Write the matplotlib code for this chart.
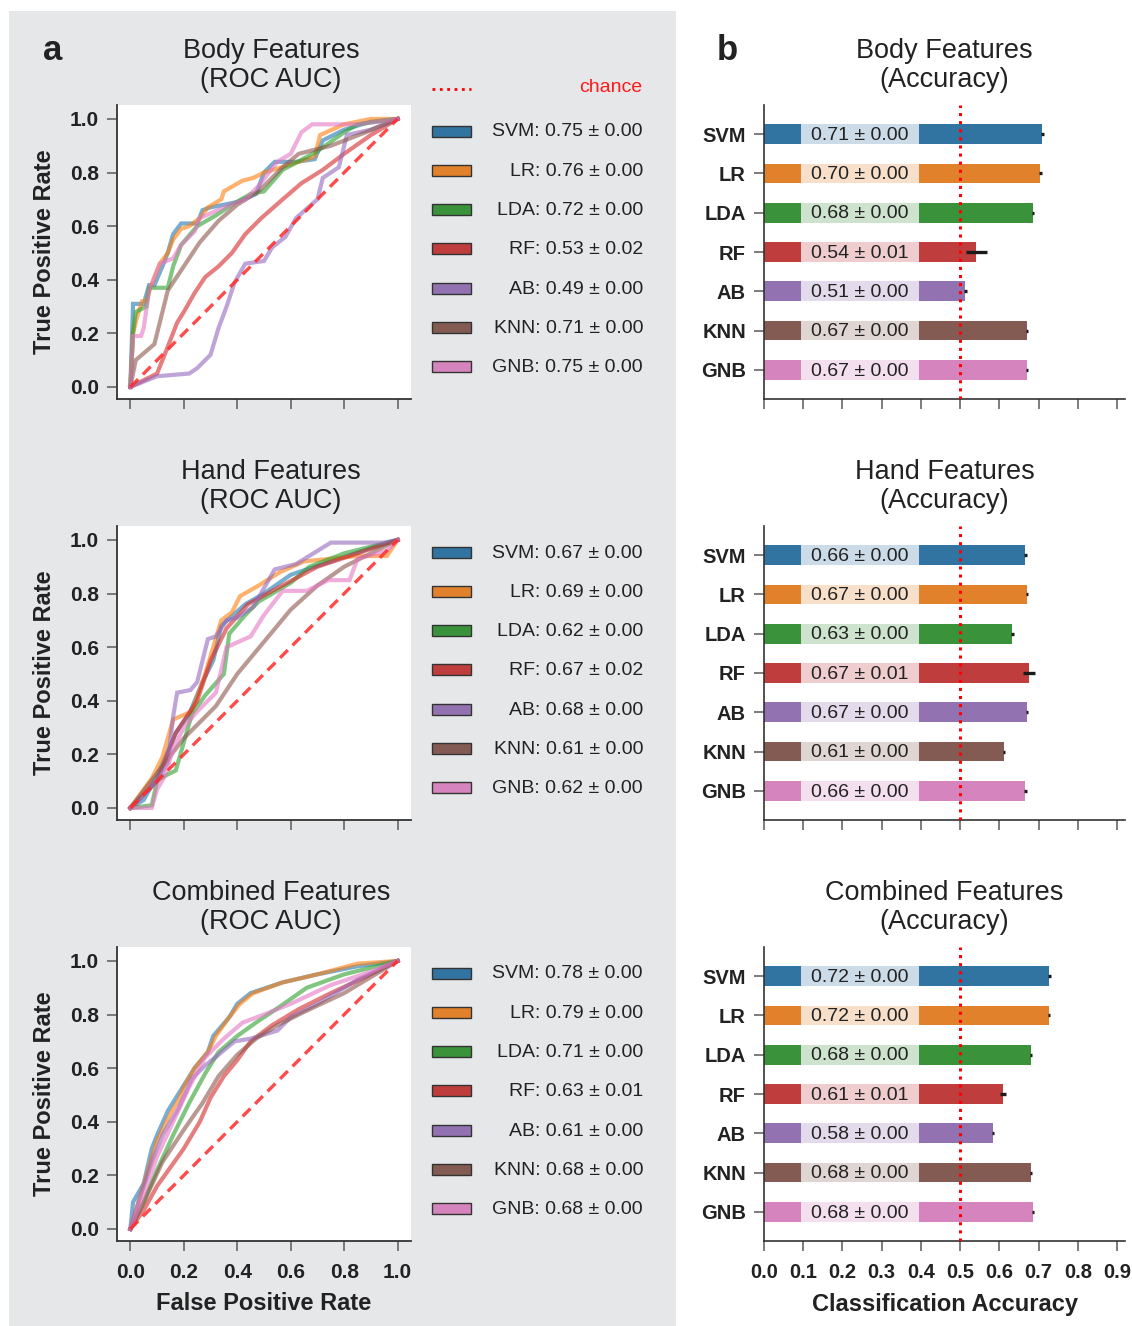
import matplotlib
matplotlib.use("Agg")
import matplotlib.pyplot as plt
from matplotlib.patches import Rectangle
from matplotlib.lines import Line2D

plt.rcParams['font.family'] = ['Liberation Sans', 'DejaVu Sans']

# ---------------- data ----------------
models = ["SVM", "LR", "LDA", "RF", "AB", "KNN", "GNB"]
feature_sets = ["Body Features", "Hand Features", "Combined Features"]

auc_labels = {
    "Body Features": ["0.75 ± 0.00", "0.76 ± 0.00", "0.72 ± 0.00", "0.53 ± 0.02",
                      "0.49 ± 0.00", "0.71 ± 0.00", "0.75 ± 0.00"],
    "Hand Features": ["0.67 ± 0.00", "0.69 ± 0.00", "0.62 ± 0.00", "0.67 ± 0.02",
                      "0.68 ± 0.00", "0.61 ± 0.00", "0.62 ± 0.00"],
    "Combined Features": ["0.78 ± 0.00", "0.79 ± 0.00", "0.71 ± 0.00", "0.63 ± 0.01",
                          "0.61 ± 0.00", "0.68 ± 0.00", "0.68 ± 0.00"],
}

acc_mean = {
    "Body Features": [0.709, 0.704, 0.686, 0.541, 0.513, 0.671, 0.671],
    "Hand Features": [0.666, 0.671, 0.633, 0.676, 0.671, 0.612, 0.666],
    "Combined Features": [0.727, 0.727, 0.681, 0.610, 0.584, 0.681, 0.686],
}
acc_err = {
    "Body Features": [0.004, 0.004, 0.003, 0.027, 0.004, 0.003, 0.003],
    "Hand Features": [0.003, 0.003, 0.003, 0.015, 0.003, 0.003, 0.003],
    "Combined Features": [0.004, 0.003, 0.003, 0.008, 0.003, 0.003, 0.003],
}
acc_labels = {
    "Body Features": ["0.71 ± 0.00", "0.70 ± 0.00", "0.68 ± 0.00", "0.54 ± 0.01",
                      "0.51 ± 0.00", "0.67 ± 0.00", "0.67 ± 0.00"],
    "Hand Features": ["0.66 ± 0.00", "0.67 ± 0.00", "0.63 ± 0.00", "0.67 ± 0.01",
                      "0.67 ± 0.00", "0.61 ± 0.00", "0.66 ± 0.00"],
    "Combined Features": ["0.72 ± 0.00", "0.72 ± 0.00", "0.68 ± 0.00", "0.61 ± 0.01",
                          "0.58 ± 0.00", "0.68 ± 0.00", "0.68 ± 0.00"],
}

# ROC curves (fpr, tpr)
roc_body = {
    "SVM": ([0, 0.01, 0.05, 0.07, 0.09, 0.12, 0.14, 0.16, 0.19, 0.25, 0.27, 0.30, 0.40, 0.47, 0.50, 0.54, 0.62, 0.69, 0.72, 0.80, 0.90, 1.0],
            [0, 0.31, 0.31, 0.38, 0.38, 0.45, 0.50, 0.57, 0.61, 0.61, 0.66, 0.67, 0.69, 0.72, 0.80, 0.84, 0.84, 0.85, 0.92, 0.96, 0.99, 1.0]),
    "LR": ([0, 0.01, 0.025, 0.044, 0.06, 0.075, 0.11, 0.14, 0.16, 0.19, 0.22, 0.26, 0.29, 0.34, 0.35, 0.42, 0.46, 0.50, 0.60, 0.69, 0.71, 0.80, 0.90, 1.0],
           [0, 0.20, 0.26, 0.32, 0.32, 0.37, 0.46, 0.50, 0.55, 0.59, 0.60, 0.63, 0.67, 0.70, 0.73, 0.77, 0.78, 0.80, 0.83, 0.86, 0.94, 0.98, 1.0, 1.0]),
    "LDA": ([0, 0.01, 0.02, 0.06, 0.07, 0.14, 0.16, 0.19, 0.25, 0.32, 0.38, 0.45, 0.50, 0.57, 0.70, 0.80, 0.85, 1.0],
            [0, 0.20, 0.28, 0.30, 0.37, 0.37, 0.45, 0.53, 0.60, 0.64, 0.68, 0.72, 0.73, 0.81, 0.88, 0.95, 0.98, 1.0]),
    "RF": ([0, 0.10, 0.14, 0.175, 0.20, 0.24, 0.28, 0.33, 0.38, 0.43, 0.49, 0.57, 0.64, 0.72, 0.80, 0.90, 1.0],
           [0, 0.05, 0.15, 0.24, 0.28, 0.35, 0.41, 0.45, 0.50, 0.57, 0.63, 0.70, 0.76, 0.81, 0.87, 0.94, 1.0]),
    "AB": ([0, 0.10, 0.22, 0.25, 0.30, 0.33, 0.36, 0.39, 0.43, 0.50, 0.53, 0.58, 0.62, 0.70, 0.72, 0.78, 0.81, 0.90, 1.0],
           [0, 0.04, 0.05, 0.07, 0.12, 0.22, 0.30, 0.39, 0.46, 0.47, 0.52, 0.56, 0.63, 0.70, 0.78, 0.82, 0.94, 0.96, 1.0]),
    "KNN": ([0, 0.02, 0.09, 0.14, 0.20, 0.26, 0.33, 0.40, 0.48, 0.57, 0.63, 0.75, 0.88, 1.0],
            [0, 0.10, 0.16, 0.36, 0.45, 0.54, 0.62, 0.68, 0.73, 0.82, 0.87, 0.90, 0.95, 1.0]),
    "GNB": ([0, 0.01, 0.04, 0.05, 0.07, 0.11, 0.16, 0.19, 0.24, 0.26, 0.35, 0.43, 0.48, 0.55, 0.60, 0.64, 0.68, 0.85, 1.0],
            [0, 0.19, 0.19, 0.22, 0.36, 0.46, 0.48, 0.53, 0.58, 0.63, 0.67, 0.70, 0.75, 0.84, 0.87, 0.95, 0.98, 0.98, 1.0]),
}

roc_hand = {
    "SVM": ([0, 0.05, 0.10, 0.17, 0.22, 0.27, 0.31, 0.34, 0.43, 0.50, 0.60, 0.75, 0.90, 1.0],
            [0, 0.03, 0.12, 0.28, 0.35, 0.47, 0.55, 0.68, 0.76, 0.80, 0.87, 0.92, 0.97, 1.0]),
    "LR": ([0, 0.08, 0.12, 0.16, 0.23, 0.28, 0.34, 0.38, 0.41, 0.48, 0.56, 0.65, 0.85, 0.96, 1.0],
           [0, 0.11, 0.19, 0.33, 0.36, 0.50, 0.70, 0.73, 0.79, 0.83, 0.88, 0.92, 0.94, 0.94, 1.0]),
    "LDA": ([0, 0.08, 0.10, 0.13, 0.17, 0.23, 0.28, 0.35, 0.37, 0.43, 0.48, 0.60, 0.67, 0.80, 1.0],
            [0, 0.01, 0.10, 0.12, 0.14, 0.35, 0.42, 0.50, 0.65, 0.72, 0.77, 0.84, 0.90, 0.95, 1.0]),
    "RF": ([0, 0.10, 0.17, 0.25, 0.30, 0.36, 0.44, 0.55, 0.70, 0.85, 1.0],
           [0, 0.10, 0.28, 0.40, 0.55, 0.67, 0.76, 0.82, 0.90, 0.95, 1.0]),
    "AB": ([0, 0.10, 0.14, 0.16, 0.175, 0.225, 0.25, 0.27, 0.29, 0.32, 0.36, 0.40, 0.46, 0.54, 0.62, 0.75, 0.95, 1.0],
           [0, 0.10, 0.17, 0.34, 0.43, 0.44, 0.47, 0.55, 0.63, 0.64, 0.70, 0.71, 0.75, 0.89, 0.91, 0.99, 0.99, 1.0]),
    "KNN": ([0, 0.10, 0.20, 0.32, 0.40, 0.50, 0.60, 0.70, 0.80, 0.90, 1.0],
            [0, 0.13, 0.26, 0.38, 0.50, 0.62, 0.74, 0.83, 0.90, 0.95, 1.0]),
    "GNB": ([0, 0.08, 0.10, 0.13, 0.16, 0.20, 0.25, 0.32, 0.36, 0.45, 0.50, 0.57, 0.66, 0.74, 0.82, 0.85, 0.96, 1.0],
            [0, 0.00, 0.07, 0.12, 0.22, 0.30, 0.36, 0.43, 0.60, 0.64, 0.72, 0.81, 0.81, 0.85, 0.85, 0.93, 0.96, 1.0]),
}

roc_comb = {
    "SVM": ([0, 0.01, 0.05, 0.08, 0.10, 0.14, 0.19, 0.24, 0.29, 0.31, 0.37, 0.40, 0.45, 0.57, 0.70, 0.85, 1.0],
            [0, 0.10, 0.17, 0.30, 0.35, 0.44, 0.52, 0.60, 0.66, 0.72, 0.79, 0.84, 0.88, 0.92, 0.95, 0.98, 1.0]),
    "LR": ([0, 0.03, 0.06, 0.10, 0.15, 0.18, 0.20, 0.24, 0.29, 0.32, 0.37, 0.41, 0.46, 0.57, 0.70, 0.85, 1.0],
           [0, 0.10, 0.20, 0.33, 0.43, 0.48, 0.53, 0.60, 0.66, 0.72, 0.79, 0.84, 0.88, 0.92, 0.95, 0.99, 1.0]),
    "LDA": ([0, 0.05, 0.10, 0.16, 0.22, 0.28, 0.33, 0.40, 0.47, 0.56, 0.66, 0.80, 1.0],
            [0, 0.10, 0.22, 0.35, 0.47, 0.58, 0.66, 0.72, 0.77, 0.83, 0.90, 0.95, 1.0]),
    "RF": ([0, 0.05, 0.10, 0.15, 0.20, 0.26, 0.30, 0.35, 0.40, 0.45, 0.53, 0.63, 0.75, 0.88, 1.0],
           [0, 0.07, 0.16, 0.23, 0.30, 0.40, 0.49, 0.57, 0.63, 0.70, 0.76, 0.82, 0.88, 0.94, 1.0]),
    "AB": ([0, 0.03, 0.08, 0.12, 0.18, 0.23, 0.28, 0.33, 0.39, 0.45, 0.55, 0.60, 0.70, 0.85, 1.0],
           [0, 0.10, 0.25, 0.35, 0.45, 0.56, 0.61, 0.65, 0.70, 0.71, 0.74, 0.79, 0.84, 0.93, 1.0]),
    "KNN": ([0, 0.05, 0.12, 0.20, 0.27, 0.33, 0.40, 0.47, 0.55, 0.65, 0.80, 0.90, 1.0],
            [0, 0.10, 0.25, 0.37, 0.47, 0.57, 0.65, 0.71, 0.76, 0.81, 0.88, 0.94, 1.0]),
    "GNB": ([0, 0.04, 0.10, 0.16, 0.22, 0.28, 0.35, 0.42, 0.50, 0.60, 0.75, 0.90, 1.0],
            [0, 0.10, 0.27, 0.40, 0.53, 0.64, 0.71, 0.77, 0.80, 0.84, 0.91, 0.96, 1.0]),
}
roc_data = {"Body Features": roc_body, "Hand Features": roc_hand, "Combined Features": roc_comb}

roc_ticks = [0.0, 0.2, 0.4, 0.6, 0.8, 1.0]
acc_ticks = [0.0, 0.1, 0.2, 0.3, 0.4, 0.5, 0.6, 0.7, 0.8, 0.9]
chance_level = 0.5

# ---------------- style ----------------
line_colors = ["#1f77b4", "#ff7f0e", "#2ca02c", "#d62728", "#9467bd", "#8c564b", "#e377c2"]
bar_colors = ["#3274a1", "#e1812c", "#3a923a", "#c03d3e", "#9372b2", "#845b53", "#d684bd"]
TXT = "#222222"
SPINE = "#333333"
TICKC = "#666666"

W, H = 1132, 1326
fig = plt.figure(figsize=(W / 100, H / 100), dpi=100)
fig.patch.set_facecolor("white")


def fx(x):
    return x / W


def fy(y):
    return 1 - y / H


def add_ax(l, t, r, b):
    return fig.add_axes([fx(l), fy(b), (r - l) / W, (b - t) / H])


# gray panel behind panel a
fig.patches.append(Rectangle((fx(9), fy(1326)), (676 - 9) / W, (1326 - 11) / H,
                             transform=fig.transFigure, facecolor="#e6e7e9",
                             edgecolor="none", zorder=-10))

fig.text(fx(43), fy(60), "a", fontsize=25, fontweight="bold", color=TXT, ha="left", va="baseline")
fig.text(fx(717), fy(60), "b", fontsize=25, fontweight="bold", color=TXT, ha="left", va="baseline")

tops = [105, 526, 947]
AXH = 294
row_step = 39.3
TITLE_FS = 19.5
TITLE_LS = 1.15

for k, fs in enumerate(feature_sets):
    top = tops[k]
    bot = top + AXH
    last = (k == 2)

    # ---------- ROC ----------
    ax = add_ax(117, top, 411, bot)
    ax.set_facecolor("white")
    for i, m in enumerate(models):
        xs, ys = roc_data[fs][m]
        ax.plot(xs, ys, color=line_colors[i], lw=3.0, alpha=0.6, solid_joinstyle="miter")
    ax.plot([0, 1], [0, 1], color="#ff2a2a", alpha=0.85, lw=2.4, ls=(0, (3.3, 2.0)))
    ax.set_xlim(-0.05, 1.05)
    ax.set_ylim(-0.045, 1.052)
    ax.set_xticks(roc_ticks)
    ax.set_yticks(roc_ticks)
    ax.set_xticklabels([f"{t:.1f}" for t in roc_ticks])
    ax.set_yticklabels([f"{t:.1f}" for t in roc_ticks])
    for s in ["top", "right"]:
        ax.spines[s].set_visible(False)
    for s in ["left", "bottom"]:
        ax.spines[s].set_color(SPINE)
        ax.spines[s].set_linewidth(1.3)
    ax.tick_params(direction="out", length=7, width=1.2, color=TICKC, labelsize=15,
                   labelcolor=TXT, pad=6)
    ax.tick_params(axis="x", pad=9)
    for lab in ax.get_xticklabels() + ax.get_yticklabels():
        lab.set_fontweight("bold")
    if not last:
        ax.tick_params(labelbottom=False)
    ax.text((45 - 117) / AXH, 0.5, "True Positive Rate", rotation=90, ha="center", va="center",
            fontsize=17, fontweight="bold", color=TXT, transform=ax.transAxes)
    ax.text((271 - 117) / AXH, 1 + (105 - 93) / AXH, fs + "\n(ROC AUC)", ha="center", va="bottom",
            fontsize=TITLE_FS, color=TXT, transform=ax.transAxes, linespacing=TITLE_LS)
    if last:
        ax.text(0.5, (bot - 1304) / AXH, "False Positive Rate", ha="center", va="center",
                fontsize=17, fontweight="bold", color=TXT, transform=ax.transAxes)

    # ---------- legend (manual) ----------
    if k == 0:
        fig.lines.append(Line2D([fx(432), fx(471)], [fy(89), fy(89)], transform=fig.transFigure,
                                color="red", lw=2, ls=":"))
        fig.text(fx(642), fy(88), "chance", color="#ff1a1a", fontsize=14, ha="right", va="center")
    for i, m in enumerate(models):
        yc = top + 26 + row_step * i
        fig.patches.append(Rectangle((fx(432), fy(yc + 5.5)), 39 / W, 11 / H,
                                     transform=fig.transFigure, facecolor=bar_colors[i],
                                     edgecolor=SPINE, lw=1.0))
        fig.text(fx(643), fy(yc + 1), f"{m}: {auc_labels[fs][i]}", color=TXT, fontsize=14,
                 ha="right", va="center")

    # ---------- accuracy bars ----------
    bx = add_ax(764, top, 1125, bot)
    bx.set_facecolor("white")
    pos = list(range(len(models)))
    bx.barh(pos, acc_mean[fs], height=0.5, color=bar_colors, xerr=acc_err[fs],
            error_kw=dict(ecolor="#1a1a1a", elinewidth=2.4, capsize=0), zorder=2)
    bx.barh(pos, [0.301] * len(models), left=0.094, height=0.5, color="white", alpha=0.75,
            lw=0, zorder=3)
    for i in pos:
        bx.text(0.245, i + 0.03, acc_labels[fs][i], ha="center", va="center", fontsize=14,
                color=TXT, zorder=4)
    bx.axvline(chance_level, color="red", ls=":", lw=2.2, zorder=5)
    bx.set_xlim(0, 0.92)
    bx.set_ylim(6.74, -0.74)
    bx.set_yticks(pos)
    bx.set_yticklabels(models)
    bx.set_xticks(acc_ticks)
    bx.set_xticklabels([f"{t:.1f}" for t in acc_ticks])
    for s in ["top", "right"]:
        bx.spines[s].set_visible(False)
    for s in ["left", "bottom"]:
        bx.spines[s].set_color(SPINE)
        bx.spines[s].set_linewidth(1.2)
    bx.tick_params(direction="out", length=7, width=1.2, color=TICKC, labelsize=14.5,
                   labelcolor=TXT, pad=6)
    bx.tick_params(axis="x", pad=9)
    for lab in bx.get_xticklabels() + bx.get_yticklabels():
        lab.set_fontweight("bold")
    if not last:
        bx.tick_params(labelbottom=False)
    bx.text(0.5, 1 + (105 - 93) / AXH, fs + "\n(Accuracy)", ha="center", va="bottom",
            fontsize=TITLE_FS, color=TXT, transform=bx.transAxes, linespacing=TITLE_LS)
    if last:
        bx.text(0.5, (bot - 1304) / AXH, "Classification Accuracy", ha="center", va="center",
                fontsize=17, fontweight="bold", color=TXT, transform=bx.transAxes)

fig.savefig("out.png", dpi=100)
